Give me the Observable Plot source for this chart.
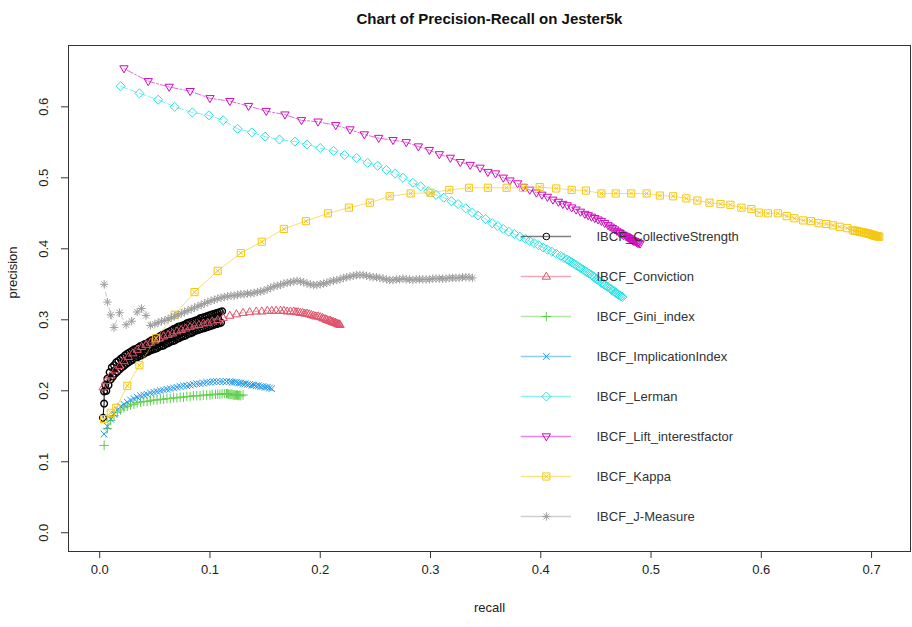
<!DOCTYPE html>
<html>
<head>
<meta charset="utf-8">
<script src="https://cdn.jsdelivr.net/npm/d3@7"></script>
<script src="https://cdn.jsdelivr.net/npm/@observablehq/plot@0.6"></script>
<style>
  html, body { margin: 0; padding: 0; background: #fff; }
  #wrap { position: relative; width: 912px; height: 627px; font-family: "Liberation Sans", Arial, sans-serif; }
  #legend { position: absolute; left: 500px; top: 210px; }
</style>
</head>
<body>
<div id="wrap"><div id="main"></div><div id="legend"></div></div>
<script>
// ---------------- data (recall, precision) ----------------
const titleText = "Chart of Precision-Recall on Jester5k";
const xLabel = "recall";
const yLabel = "precision";
const xTicks = [0, 0.1, 0.2, 0.3, 0.4, 0.5, 0.6, 0.7];
const yTicks = [0, 0.1, 0.2, 0.3, 0.4, 0.5, 0.6];

const seriesNames = ["IBCF_CollectiveStrength", "IBCF_Conviction", "IBCF_Gini_index", "IBCF_ImplicationIndex",
  "IBCF_Lerman", "IBCF_Lift_interestfactor", "IBCF_Kappa", "IBCF_J-Measure"];
const seriesColors = ["#000000", "#DF536B", "#61D04F", "#2297E6", "#28E2E5", "#CD0BBC", "#F5C710", "#9E9E9E"];

const collectiveStrength = [[0.003,0.162],[0.004,0.182],[0.004,0.199],
  [0.005,0.208],[0.006,0.200],[0.007,0.217],[0.008,0.208],[0.009,0.226],[0.010,0.216],[0.011,0.233],[0.012,0.220],[0.013,0.236],
  [0.014,0.224],[0.015,0.240],[0.016,0.227],[0.017,0.242],[0.018,0.230],[0.019,0.245],[0.020,0.233],[0.021,0.247],[0.022,0.235],
  [0.023,0.250],[0.024,0.238],[0.025,0.252],[0.026,0.240],[0.027,0.254],[0.028,0.242],[0.029,0.256],[0.030,0.244],[0.031,0.258],
  [0.032,0.246],[0.033,0.259],[0.034,0.247],[0.035,0.261],[0.036,0.249],[0.037,0.263],[0.038,0.250],[0.039,0.264],[0.040,0.252],
  [0.041,0.266],[0.042,0.254],[0.043,0.267],[0.044,0.255],[0.045,0.269],[0.046,0.257],[0.047,0.271],[0.048,0.258],[0.049,0.272],
  [0.050,0.259],[0.051,0.274],[0.052,0.260],[0.053,0.275],[0.054,0.262],[0.055,0.277],[0.056,0.263],[0.057,0.279],[0.058,0.264],
  [0.059,0.280],[0.060,0.266],[0.061,0.282],[0.062,0.267],[0.063,0.283],[0.064,0.269],[0.065,0.285],[0.066,0.270],[0.067,0.287],
  [0.068,0.271],[0.069,0.288],[0.070,0.273],[0.071,0.290],[0.072,0.274],[0.073,0.291],[0.074,0.276],[0.075,0.292],[0.076,0.277],
  [0.077,0.293],[0.078,0.278],[0.079,0.295],[0.080,0.280],[0.081,0.296],[0.082,0.281],[0.083,0.297],[0.084,0.282],[0.085,0.298],
  [0.086,0.284],[0.087,0.299],[0.088,0.285],[0.089,0.300],[0.090,0.286],[0.091,0.302],[0.092,0.287],[0.093,0.303],[0.094,0.288],
  [0.095,0.304],[0.096,0.289],[0.097,0.305],[0.098,0.290],[0.099,0.306],[0.100,0.291],[0.101,0.307],[0.102,0.292],[0.103,0.308],
  [0.104,0.293],[0.105,0.309],[0.106,0.294],[0.107,0.310],[0.108,0.295],[0.109,0.311],[0.110,0.296],[0.111,0.312]];

const conviction = [[0.003,0.205],[0.006,0.214],[0.010,0.222],[0.014,0.229],[0.018,0.235],[0.022,0.242],[0.026,0.248],[0.030,0.253],
  [0.034,0.258],[0.038,0.262],[0.042,0.265],[0.046,0.268],[0.050,0.271],[0.054,0.274],[0.058,0.277],[0.062,0.279],[0.066,0.281],
  [0.070,0.284],[0.074,0.286],[0.078,0.288],[0.082,0.290],[0.086,0.292],[0.090,0.293],[0.094,0.295],[0.098,0.296],[0.102,0.298],
  [0.107,0.300],[0.112,0.303],[0.118,0.306],[0.124,0.308],[0.130,0.310],[0.136,0.311],[0.142,0.312],[0.147,0.312],[0.152,0.313],
  [0.156,0.313],[0.160,0.313],[0.164,0.313],[0.167,0.313],[0.170,0.312],[0.173,0.312],[0.176,0.312],[0.178,0.311],[0.180,0.311],
  [0.182,0.310],[0.184,0.310],[0.186,0.309],[0.188,0.309],[0.190,0.308],[0.192,0.307],[0.194,0.306],[0.196,0.305],[0.198,0.305],
  [0.200,0.304],[0.202,0.303],[0.203,0.302],[0.205,0.301],[0.206,0.300],[0.208,0.299],[0.209,0.299],[0.210,0.298],[0.211,0.297],
  [0.212,0.297],[0.213,0.296],[0.214,0.296],[0.215,0.295],[0.216,0.294],[0.217,0.294],[0.218,0.293]];

const giniIndex = [[0.004,0.123],[0.007,0.147],[0.010,0.158],[0.013,0.165],[0.016,0.170],[0.019,0.173],[0.022,0.176],[0.025,0.178],
  [0.028,0.180],[0.031,0.181],[0.034,0.183],[0.037,0.184],[0.040,0.185],[0.043,0.185],[0.046,0.186],[0.049,0.187],[0.052,0.187],
  [0.055,0.188],[0.058,0.188],[0.061,0.189],[0.064,0.189],[0.067,0.190],[0.070,0.190],[0.073,0.191],[0.076,0.191],[0.079,0.192],
  [0.082,0.192],[0.085,0.193],[0.088,0.193],[0.091,0.193],[0.094,0.194],[0.097,0.194],[0.100,0.194],[0.102,0.195],[0.105,0.195],
  [0.107,0.195],[0.109,0.195],[0.111,0.196],[0.113,0.196],[0.115,0.196],[0.116,0.196],[0.117,0.195],[0.118,0.195],[0.119,0.195],
  [0.120,0.195],[0.121,0.194],[0.122,0.194],[0.123,0.194],[0.124,0.194],[0.125,0.194],[0.126,0.193],[0.127,0.194],[0.128,0.193],
  [0.130,0.194]];

const implicationIndex = [[0.004,0.139],[0.007,0.150],[0.010,0.160],[0.013,0.167],[0.016,0.173],[0.019,0.178],[0.022,0.181],
  [0.025,0.184],[0.028,0.187],[0.031,0.189],[0.034,0.191],[0.037,0.193],[0.040,0.194],[0.043,0.195],[0.046,0.197],[0.049,0.198],
  [0.052,0.199],[0.055,0.200],[0.058,0.201],[0.061,0.202],[0.064,0.203],[0.067,0.204],[0.070,0.205],[0.073,0.206],[0.076,0.207],
  [0.079,0.207],[0.082,0.208],[0.085,0.209],[0.088,0.210],[0.091,0.210],[0.094,0.211],[0.097,0.212],[0.100,0.212],[0.103,0.213],
  [0.106,0.213],[0.109,0.213],[0.112,0.213],[0.115,0.213],[0.118,0.213],[0.120,0.212],[0.122,0.212],[0.124,0.212],[0.126,0.211],
  [0.128,0.211],[0.130,0.210],[0.132,0.210],[0.134,0.209],[0.136,0.209],[0.138,0.208],[0.140,0.208],[0.142,0.207],[0.144,0.207],
  [0.146,0.206],[0.148,0.206],[0.150,0.205],[0.152,0.205],[0.154,0.204],[0.156,0.203]];

const lerman = [[0.019,0.629],[0.036,0.619],[0.053,0.610],[0.068,0.600],[0.084,0.592],[0.099,0.588],[0.112,0.581],[0.125,0.569],
  [0.138,0.564],[0.150,0.558],[0.163,0.554],[0.177,0.551],[0.188,0.547],[0.200,0.542],[0.212,0.538],[0.222,0.532],[0.233,0.528],
  [0.243,0.521],[0.252,0.517],[0.260,0.511],[0.268,0.506],[0.275,0.500],[0.284,0.493],[0.291,0.488],[0.298,0.481],[0.305,0.476],
  [0.312,0.472],[0.319,0.467],[0.325,0.463],[0.332,0.457],[0.338,0.451],[0.343,0.447],[0.350,0.442],[0.356,0.436],[0.361,0.432],
  [0.366,0.428],[0.371,0.424],[0.376,0.421],[0.381,0.417],[0.386,0.414],[0.390,0.411],[0.394,0.408],[0.398,0.405],[0.402,0.402],
  [0.406,0.399],[0.410,0.396],[0.414,0.393],[0.418,0.390],[0.421,0.387],[0.424,0.385],[0.426,0.383],[0.428,0.381],[0.430,0.379],
  [0.432,0.377],[0.434,0.375],[0.436,0.373],[0.438,0.371],[0.440,0.369],[0.442,0.367],[0.444,0.365],[0.446,0.363],[0.448,0.361],
  [0.449,0.359],[0.451,0.357],[0.452,0.356],[0.454,0.354],[0.455,0.352],[0.457,0.351],[0.458,0.349],[0.460,0.347],[0.461,0.346],
  [0.463,0.344],[0.464,0.343],[0.465,0.341],[0.467,0.340],[0.468,0.338],[0.469,0.337],[0.470,0.336],[0.471,0.335],[0.472,0.334],
  [0.473,0.333],[0.474,0.332]];

const liftInterestFactor = [[0.022,0.654],[0.044,0.636],[0.063,0.628],[0.082,0.622],[0.100,0.612],[0.118,0.608],[0.135,0.601],
  [0.151,0.594],[0.168,0.589],[0.183,0.581],[0.198,0.579],[0.214,0.574],[0.227,0.568],[0.240,0.561],[0.253,0.556],[0.266,0.553],
  [0.278,0.550],[0.289,0.544],[0.299,0.539],[0.308,0.533],[0.318,0.528],[0.327,0.522],[0.336,0.518],[0.345,0.514],[0.352,0.508],
  [0.359,0.506],[0.366,0.500],[0.372,0.496],[0.379,0.492],[0.384,0.487],[0.390,0.483],[0.396,0.479],[0.401,0.476],[0.406,0.473],
  [0.411,0.469],[0.416,0.466],[0.420,0.463],[0.424,0.461],[0.428,0.458],[0.432,0.455],[0.436,0.452],[0.440,0.449],[0.443,0.447],
  [0.446,0.445],[0.449,0.443],[0.452,0.441],[0.455,0.439],[0.458,0.436],[0.461,0.433],[0.463,0.431],[0.465,0.429],[0.467,0.427],
  [0.469,0.425],[0.471,0.423],[0.472,0.422],[0.474,0.420],[0.475,0.419],[0.477,0.418],[0.478,0.417],[0.479,0.416],[0.480,0.415],
  [0.481,0.414],[0.482,0.413],[0.483,0.412],[0.484,0.411],[0.485,0.411],[0.486,0.410],[0.487,0.409],[0.488,0.408],[0.489,0.408],
  [0.490,0.407]];

const kappa = [[0.004,0.160],[0.010,0.169],[0.015,0.176],[0.025,0.207],[0.036,0.236],[0.051,0.274],[0.068,0.307],[0.086,0.339],
  [0.107,0.369],[0.128,0.394],[0.147,0.410],[0.167,0.428],[0.187,0.439],[0.207,0.450],[0.226,0.458],[0.245,0.465],[0.263,0.474],
  [0.282,0.478],[0.300,0.479],[0.317,0.483],[0.335,0.486],[0.352,0.486],[0.369,0.486],[0.384,0.486],[0.399,0.487],[0.414,0.485],
  [0.428,0.483],[0.441,0.482],[0.455,0.478],[0.468,0.478],[0.482,0.478],[0.496,0.478],[0.508,0.475],[0.520,0.474],[0.532,0.471],
  [0.542,0.468],[0.553,0.465],[0.563,0.463],[0.572,0.462],[0.582,0.458],[0.591,0.456],[0.598,0.451],[0.606,0.450],[0.615,0.450],
  [0.623,0.446],[0.630,0.443],[0.638,0.440],[0.645,0.439],[0.652,0.436],[0.659,0.435],[0.665,0.433],[0.671,0.431],[0.678,0.429],
  [0.683,0.426],[0.685,0.4255],[0.687,0.425],[0.689,0.424],[0.691,0.4235],[0.693,0.423],[0.695,0.422],[0.697,0.4215],[0.698,0.421],
  [0.700,0.420],[0.701,0.4195],[0.702,0.419],[0.703,0.4185],[0.704,0.418],[0.705,0.4178],[0.706,0.4175],[0.707,0.417]];

const jMeasure = [[0.004,0.350],[0.007,0.325],[0.010,0.307],[0.013,0.289],[0.018,0.310],[0.024,0.293],[0.029,0.298],[0.034,0.311],
  [0.038,0.316],[0.042,0.306],[0.046,0.292],[0.050,0.294],[0.053,0.296],[0.056,0.298],[0.059,0.299],[0.062,0.301],[0.065,0.303],
  [0.068,0.305],[0.071,0.307],[0.074,0.309],[0.077,0.311],[0.080,0.313],[0.083,0.315],[0.086,0.317],[0.089,0.319],[0.092,0.321],
  [0.095,0.323],[0.098,0.325],[0.101,0.327],[0.104,0.328],[0.107,0.330],[0.110,0.331],[0.113,0.332],[0.116,0.333],[0.119,0.334],
  [0.122,0.334],[0.125,0.335],[0.128,0.336],[0.131,0.336],[0.134,0.337],[0.137,0.337],[0.140,0.338],[0.143,0.339],[0.146,0.340],
  [0.149,0.341],[0.152,0.343],[0.155,0.345],[0.158,0.347],[0.161,0.348],[0.164,0.349],[0.167,0.351],[0.170,0.352],[0.173,0.353],
  [0.176,0.354],[0.179,0.355],[0.182,0.354],[0.185,0.353],[0.188,0.351],[0.191,0.350],[0.194,0.349],[0.197,0.349],[0.200,0.350],
  [0.203,0.351],[0.206,0.352],[0.209,0.354],[0.212,0.355],[0.215,0.356],[0.218,0.357],[0.221,0.359],[0.224,0.360],[0.227,0.361],
  [0.230,0.362],[0.233,0.363],[0.236,0.363],[0.239,0.363],[0.242,0.362],[0.245,0.361],[0.248,0.360],[0.251,0.360],[0.254,0.359],
  [0.257,0.358],[0.260,0.357],[0.263,0.356],[0.266,0.356],[0.269,0.357],[0.272,0.357],[0.275,0.358],[0.278,0.357],[0.281,0.357],
  [0.284,0.356],[0.287,0.357],[0.290,0.357],[0.293,0.357],[0.296,0.357],[0.299,0.357],[0.302,0.358],[0.305,0.358],[0.308,0.358],
  [0.311,0.358],[0.314,0.358],[0.317,0.359],[0.320,0.359],[0.323,0.359],[0.326,0.359],[0.329,0.360],[0.332,0.360],[0.335,0.360],
  [0.338,0.359]];

const seriesData = [collectiveStrength, conviction, giniIndex, implicationIndex, lerman, liftInterestFactor, kappa, jMeasure];

// ---------------- R-like point symbols ----------------
const S = (f) => ({draw(c, size) { f(c, Math.sqrt(size / Math.PI)); }});
const symCircle = S((c, r) => { const a = r * 0.95; c.moveTo(a, 0); c.arc(0, 0, a, 0, 2 * Math.PI); });
const symTriUp = S((c, r) => { const a = r * 1.25; c.moveTo(0, -a); c.lineTo(a * 0.95, a * 0.62); c.lineTo(-a * 0.95, a * 0.62); c.closePath(); });
const symPlus = S((c, r) => { const a = r * 1.35; c.moveTo(-a, 0); c.lineTo(a, 0); c.moveTo(0, -a); c.lineTo(0, a); });
const symTimes = S((c, r) => { const a = r * 0.95; c.moveTo(-a, -a); c.lineTo(a, a); c.moveTo(-a, a); c.lineTo(a, -a); });
const symDiamond = S((c, r) => { const a = r * 1.3; c.moveTo(0, -a); c.lineTo(a, 0); c.lineTo(0, a); c.lineTo(-a, 0); c.closePath(); });
const symTriDown = S((c, r) => { const a = r * 1.25; c.moveTo(0, a); c.lineTo(a * 0.95, -a * 0.62); c.lineTo(-a * 0.95, -a * 0.62); c.closePath(); });
const symBoxX = S((c, r) => { const a = r * 1.02; c.rect(-a, -a, 2 * a, 2 * a); c.moveTo(-a * 0.6, -a * 0.6); c.lineTo(a * 0.6, a * 0.6); c.moveTo(-a * 0.6, a * 0.6); c.lineTo(a * 0.6, -a * 0.6); });
const symAster = S((c, r) => { const a = r * 1.2, b = r * 0.85;
  c.moveTo(-a, 0); c.lineTo(a, 0); c.moveTo(0, -a); c.lineTo(0, a);
  c.moveTo(-b, -b); c.lineTo(b, b); c.moveTo(-b, b); c.lineTo(b, -b); });
const seriesSymbols = [symCircle, symTriUp, symPlus, symTimes, symDiamond, symTriDown, symBoxX, symAster];
const seriesDash = ["none", "4,4", "1,3", "1,3,4,3", "7,3", "2,2,6,2", "none", "4,4"];
const seriesLineOpacity = [1, 0.6, 0.6, 0.6, 0.6, 0.6, 0.6, 0.6];
const seriesPointWidth = [1.4, 1, 1, 1, 1, 1, 1, 1];

const fmt = d3.format(".1f");
const FONT = '"Liberation Sans", Arial, sans-serif';

// ---------------- main plot ----------------
const marks = [];
seriesData.forEach((data, i) => {
  marks.push(Plot.line(data, {x: d => d[0], y: d => d[1], stroke: seriesColors[i], strokeOpacity: seriesLineOpacity[i],
    strokeWidth: 1, strokeDasharray: seriesDash[i]}));
  marks.push(Plot.dot(data, {x: d => d[0], y: d => d[1], r: 3.5, symbol: seriesSymbols[i],
    stroke: seriesColors[i], fill: "none", strokeWidth: seriesPointWidth[i]}));
});

const main = Plot.plot({
  width: 912, height: 627,
  marginTop: 45, marginBottom: 76, marginLeft: 68, marginRight: 2,
  style: {fontFamily: FONT, fontSize: "13px", color: "#222", background: "#fff"},
  x: {domain: [-0.0283, 0.7353], axis: null},
  y: {domain: [-0.0264, 0.6864], axis: null},
  marks: [
    ...marks,
    Plot.frame({stroke: "#333", strokeWidth: 1}),
    Plot.axisX({ticks: xTicks, tickSize: 7, tickPadding: 6, tickFormat: fmt, anchor: "bottom", stroke: "#333"}),
    Plot.axisY({ticks: yTicks, tickSize: 7, tickFormat: () => "", anchor: "left", stroke: "#333"}),
    Plot.text(yTicks, {y: d => d, text: d => fmt(d), frameAnchor: "left", dx: -25, rotate: -90, textAnchor: "middle", fill: "#222"}),
    Plot.text([xLabel], {text: d => d, frameAnchor: "bottom", dy: 60, fill: "#222"}),
    Plot.text([yLabel], {text: d => d, frameAnchor: "left", dx: -56, rotate: -90, fill: "#222"}),
    Plot.text([titleText], {text: d => d, frameAnchor: "top", dy: -32, fontWeight: "bold", fontSize: 15, fill: "#111"})
  ]
});
document.getElementById("main").appendChild(main);

// ---------------- legend (separate overlay plot) ----------------
const legendRows = seriesNames.map((name, i) => ({name, i}));
const legendMarks = [];
legendRows.forEach(row => {
  legendMarks.push(Plot.ruleY([row], {y: "name", x1: 0, x2: 1, stroke: seriesColors[row.i], strokeOpacity: 0.5, strokeWidth: 1.3}));
  legendMarks.push(Plot.dot([row], {x: 0.5, y: "name", r: 3.5, symbol: seriesSymbols[row.i], stroke: seriesColors[row.i], fill: "none", strokeWidth: 1}));
});
legendMarks.push(Plot.text(legendRows, {y: "name", text: "name", frameAnchor: "left", dx: 96, textAnchor: "start", fill: "#333"}));

const legend = Plot.plot({
  width: 260, height: 320, margin: 0,
  style: {fontFamily: FONT, fontSize: "13px", background: "transparent", overflow: "visible"},
  x: {domain: [0, 1], range: [20.7, 71], axis: null},
  y: {type: "point", domain: seriesNames, range: [24, 307], padding: 0, axis: null},
  marks: legendMarks
});
document.getElementById("legend").appendChild(legend);
</script>
</body>
</html>
